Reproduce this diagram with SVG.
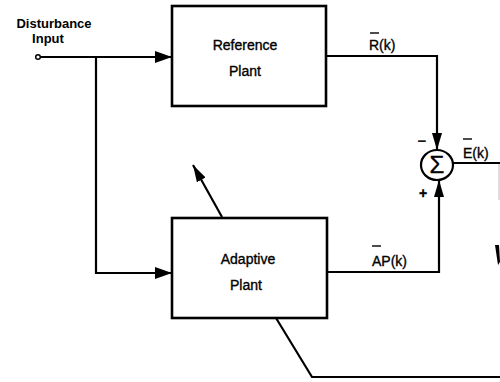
<svg xmlns="http://www.w3.org/2000/svg" width="500" height="382" viewBox="0 0 500 382">
<style>
.box{fill:#fff;stroke:#000;stroke-width:2.6}
.ln{fill:none;stroke:#000;stroke-width:2.2}
.t{font-family:"Liberation Sans",Arial,sans-serif;font-size:14px;fill:#000;stroke:#000;stroke-width:0.35}
.tb{font-family:"Liberation Sans",Arial,sans-serif;font-size:13px;font-weight:bold;fill:#000}
.ov{stroke:#000;stroke-width:1.4}
</style>
<defs>
<marker id="ah" markerUnits="userSpaceOnUse" markerWidth="18" markerHeight="14" refX="17" refY="7" orient="auto">
<path d="M0,1 L17,7 L0,13 Z" fill="#000"/>
</marker>
<marker id="ahs" markerUnits="userSpaceOnUse" markerWidth="18" markerHeight="12" refX="17" refY="6" orient="auto">
<path d="M0,1 L17,6 L0,11 Z" fill="#000"/>
</marker>
</defs>
<rect width="500" height="382" fill="#fff"/>
<g id="connectors">
<line class="ln" x1="40" y1="57" x2="172" y2="57" marker-end="url(#ah)"/>
<polyline class="ln" points="96,57 96,273 172,273" marker-end="url(#ah)"/>
<polyline class="ln" points="326,56 437,56 437,150" marker-end="url(#ahs)"/>
<polyline class="ln" points="327,272 439,272 439,180" marker-end="url(#ahs)"/>
<line class="ln" x1="453" y1="163" x2="500" y2="163"/>
<line x1="499" y1="164" x2="499" y2="200" stroke="#bbb" stroke-width="1"/>
<line class="ln" x1="222" y1="217" x2="193" y2="165" marker-end="url(#ahs)"/>
<polyline class="ln" points="276,318 312,377 500,377"/>
<polygon points="495,245 499,245 500,262 498,265" fill="#000"/>
</g>
<g id="input">
<circle cx="38" cy="57" r="2.3" fill="#fff" stroke="#000" stroke-width="1.5"/>
<text class="tb" x="54" y="28" text-anchor="middle">Disturbance</text>
<text class="tb" x="48" y="43" text-anchor="middle">Input</text>
</g>
<g id="reference-plant">
<rect class="box" x="172" y="6" width="154" height="100"/>
<text class="t" x="245" y="50" text-anchor="middle">Reference</text>
<text class="t" x="245" y="76" text-anchor="middle">Plant</text>
</g>
<g id="adaptive-plant">
<rect class="box" x="172" y="218" width="155" height="100"/>
<text class="t" x="248" y="264" text-anchor="middle">Adaptive</text>
<text class="t" x="246" y="290" text-anchor="middle">Plant</text>
</g>
<g id="sum">
<ellipse cx="437" cy="165" rx="16" ry="15" fill="#fff" stroke="#000" stroke-width="2.2"/>
<text class="t" x="437" y="173" text-anchor="middle" style="font-size:24px">Σ</text>
<text class="t" x="422" y="146" text-anchor="middle" style="font-size:15px">−</text>
<text class="t" x="423" y="198" text-anchor="middle" style="font-size:14px;font-weight:bold">+</text>
</g>
<g id="labels">
<text class="t" x="369" y="50">R(k)</text>
<line class="ov" x1="370" y1="33" x2="379" y2="33"/>
<text class="t" x="463" y="158">E(k)</text>
<line class="ov" x1="463" y1="139" x2="472" y2="139"/>
<text class="t" x="372" y="266">AP(k)</text>
<line class="ov" x1="372" y1="246" x2="381" y2="246"/>
</g>
</svg>
